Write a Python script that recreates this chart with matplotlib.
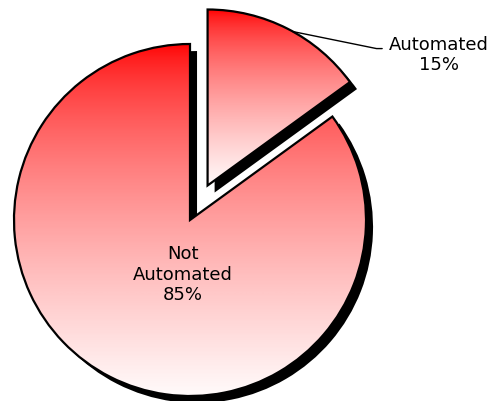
import numpy as np
import matplotlib
matplotlib.use("Agg")
import matplotlib.pyplot as plt
from matplotlib.colors import LinearSegmentedColormap

labels = ["Automated", "Not\nAutomated"]
shares = [15, 85]
explode = [0.22, 0.0]

fig = plt.figure(figsize=(4.92, 4.01), dpi=100)
ax = fig.add_axes([0, 0, 1, 1])

# shadow pie, shifted right/down
ax.pie(shares, explode=explode, startangle=90, counterclock=False,
       center=(0.04, -0.04), colors=["black", "black"],
       wedgeprops=dict(linewidth=0, zorder=1))

wedges, _ = ax.pie(shares, explode=explode, startangle=90, counterclock=False,
                   colors=["none", "none"],
                   wedgeprops=dict(edgecolor="black", linewidth=1.6, zorder=3))

cmap = LinearSegmentedColormap.from_list("redwhite", ["#ff0000", "#fffafa"])
grad = (np.linspace(0, 1, 256) ** 0.65).reshape(-1, 1)
for w in wedges:
    bb = w.get_path().get_extents()
    im = ax.imshow(grad, cmap=cmap, extent=[bb.x0, bb.x1, bb.y0, bb.y1],
                   origin="upper", aspect="auto", zorder=2, interpolation="bilinear")
    im.set_clip_path(w)

# label for exploded slice with leader line
w0 = wedges[0]
mid = np.deg2rad((w0.theta1 + w0.theta2) / 2 - 2)
cx, cy = w0.center
ax.annotate(f"{labels[0]}\n{shares[0]}%",
            xy=(cx + np.cos(mid) * 1.0, cy + np.sin(mid) * 1.0),
            xytext=(1.415, 0.935), ha="center", va="center", fontsize=13,
            linespacing=1.15,
            arrowprops=dict(arrowstyle="-", color="black", lw=1.0,
                            relpos=(0, 0.68), shrinkA=3, shrinkB=0,
                            connectionstyle="angle,angleA=0,angleB=-11.5,rad=0"))

ax.text(-0.04, -0.31, f"{labels[1]}\n{shares[1]}%", ha="center", va="center",
        fontsize=13, linespacing=1.15, zorder=4)

ax.set_xlim(-190 / 176, (492 - 190) / 176)
ax.set_ylim(-(401 - 220) / 176, 220 / 176)
ax.axis("off")

fig.savefig("out.png", dpi=100)
